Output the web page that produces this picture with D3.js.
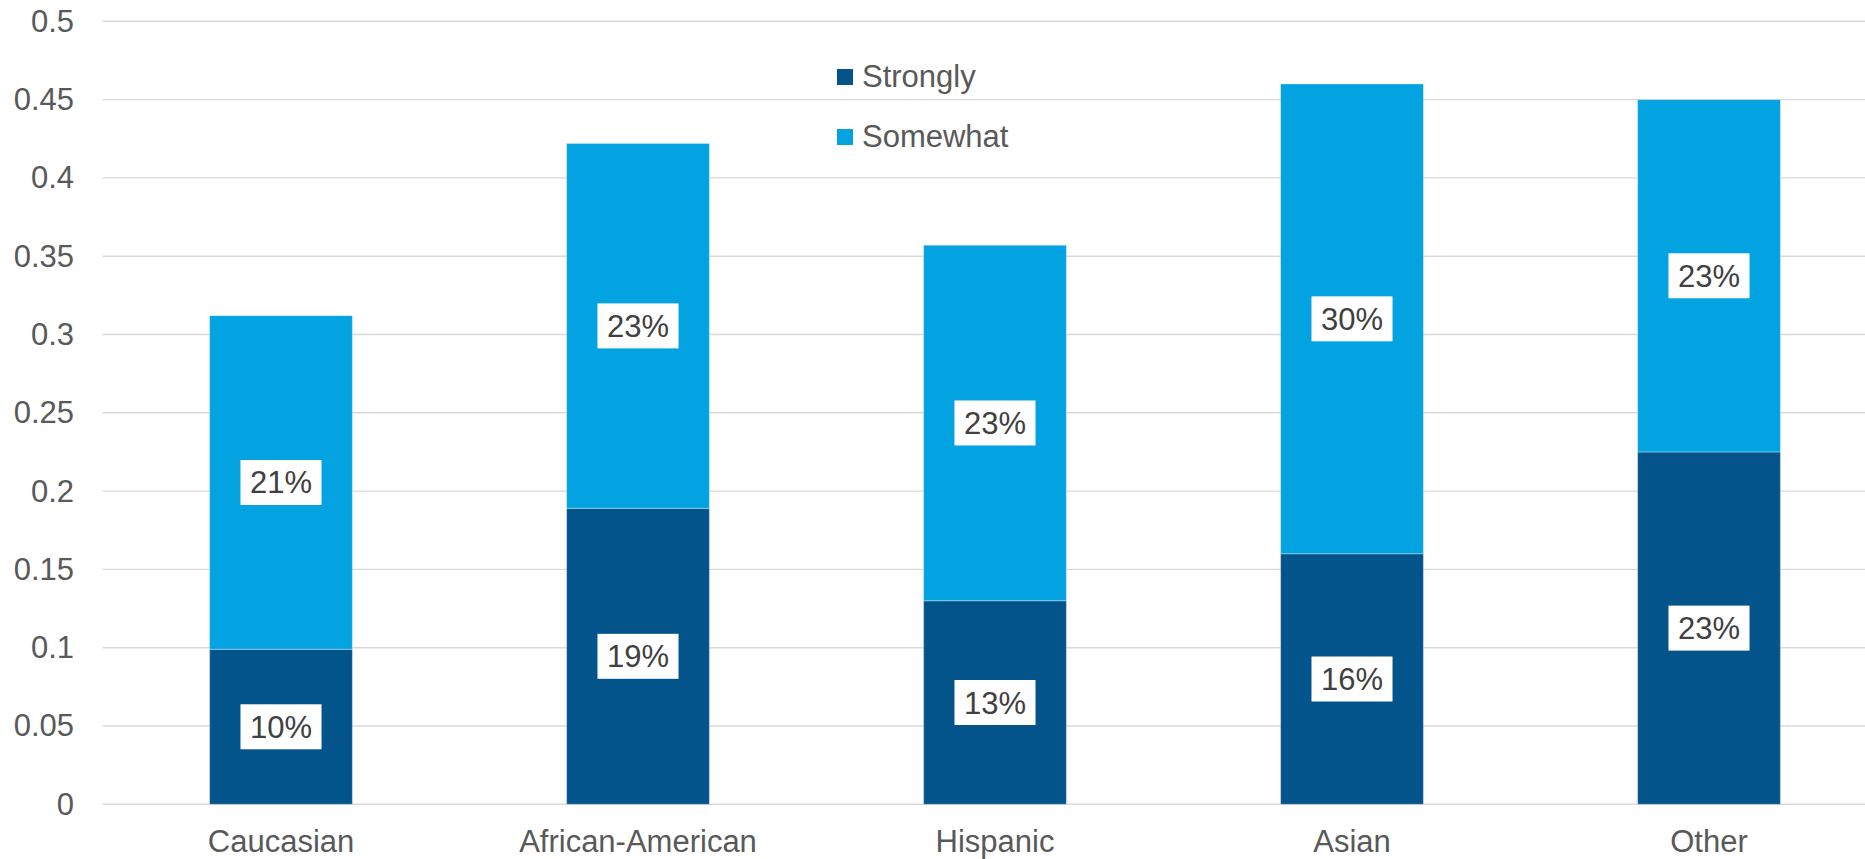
<!DOCTYPE html>
<html>
<head>
<meta charset="utf-8">
<script src="https://cdn.jsdelivr.net/npm/d3@7"></script>
<style>
  html, body { margin: 0; padding: 0; background: #fff; }
  svg { display: block; font-family: "Liberation Sans", Arial, sans-serif; }
</style>
</head>
<body>
<svg id="chart" width="1865" height="859"></svg>
<script>
// Share of respondents by group, split by agreement strength
const categories = ["Caucasian", "African-American", "Hispanic", "Asian", "Other"];
const strongly = [0.099, 0.189, 0.130, 0.160, 0.225];
const somewhat = [0.213, 0.233, 0.227, 0.300, 0.225];
const seriesNames = ["Strongly", "Somewhat"];
const yTicks = [0, 0.05, 0.1, 0.15, 0.2, 0.25, 0.3, 0.35, 0.4, 0.45, 0.5];

const W = 1865, H = 859;
const colors = { Strongly: "#03548b", Somewhat: "#03a2e0" };

const svg = d3.select("#chart");

const x = d3.scaleBand()
  .domain(categories)
  .range([102.5, 1887.5])
  .paddingInner(0.6)
  .paddingOuter(0.3);

const y = d3.scaleLinear()
  .domain([0, 0.5])
  .range([804.3, 21.3]);

// Horizontal gridlines
svg.append("g")
  .selectAll("line")
  .data(yTicks)
  .join("line")
  .attr("x1", 102.5)
  .attr("x2", W)
  .attr("y1", d => y(d))
  .attr("y2", d => y(d))
  .attr("stroke", "#d9d9d9")
  .attr("stroke-width", 1.4);

// Y axis labels
const yAxis = d3.axisLeft(y)
  .tickValues(yTicks)
  .tickFormat(d => String(d))
  .tickSize(0)
  .tickPadding(28.5);
const gy = svg.append("g").attr("transform", "translate(102.5,0)").call(yAxis);
gy.select(".domain").remove();
gy.selectAll("text")
  .attr("font-size", 31)
  .attr("font-family", "'Liberation Sans', Arial, sans-serif")
  .attr("fill", "#595959");

// X axis labels
const xAxis = d3.axisBottom(x).tickSize(0).tickPadding(25.7);
const gx = svg.append("g").attr("transform", `translate(0,${y(0)})`).call(xAxis);
gx.select(".domain").remove();
gx.selectAll("text")
  .attr("font-size", 31)
  .attr("font-family", "'Liberation Sans', Arial, sans-serif")
  .attr("fill", "#595959");

// Stack the two series
const rows = categories.map((c, i) => ({ category: c, Strongly: strongly[i], Somewhat: somewhat[i] }));
const stacked = d3.stack().keys(seriesNames)(rows);

const layers = svg.append("g")
  .selectAll("g")
  .data(stacked)
  .join("g")
  .attr("fill", d => colors[d.key]);

layers.selectAll("rect")
  .data(d => d)
  .join("rect")
  .attr("x", d => x(d.data.category))
  .attr("width", x.bandwidth())
  .attr("y", d => y(d[1]))
  .attr("height", d => y(d[0]) - y(d[1]))
  .attr("stroke", "rgba(255,255,255,0.35)")
  .attr("stroke-width", 1);

// Value labels in white boxes at the centre of each segment
const fmt = d3.format(".0%");
const labels = svg.append("g");
stacked.forEach(layer => {
  layer.forEach(d => {
    const cx = x(d.data.category) + x.bandwidth() / 2;
    const cy = (y(d[0]) + y(d[1])) / 2;
    const g = labels.append("g");
    const t = g.append("text")
      .attr("x", cx)
      .attr("y", cy)
      .attr("dy", "0.355em")
      .attr("text-anchor", "middle")
      .attr("font-size", 31)
      .attr("fill", "#404040")
      .text(fmt(d[1] - d[0]));
    const tw = t.node().getComputedTextLength();
    g.insert("rect", "text")
      .attr("x", cx - tw / 2 - 9.5)
      .attr("y", cy - 22.5)
      .attr("width", tw + 19)
      .attr("height", 45)
      .attr("fill", "#fff");
  });
});

// Legend
const legend = svg.append("g")
  .selectAll("g")
  .data(seriesNames)
  .join("g")
  .attr("transform", (d, i) => `translate(837,${69 + i * 60})`);
legend.append("rect")
  .attr("width", 16)
  .attr("height", 16)
  .attr("fill", d => colors[d]);
legend.append("text")
  .attr("x", 25)
  .attr("y", 17.7)
  .attr("font-size", 31)
  .attr("fill", "#595959")
  .text(d => d);
</script>
</body>
</html>
